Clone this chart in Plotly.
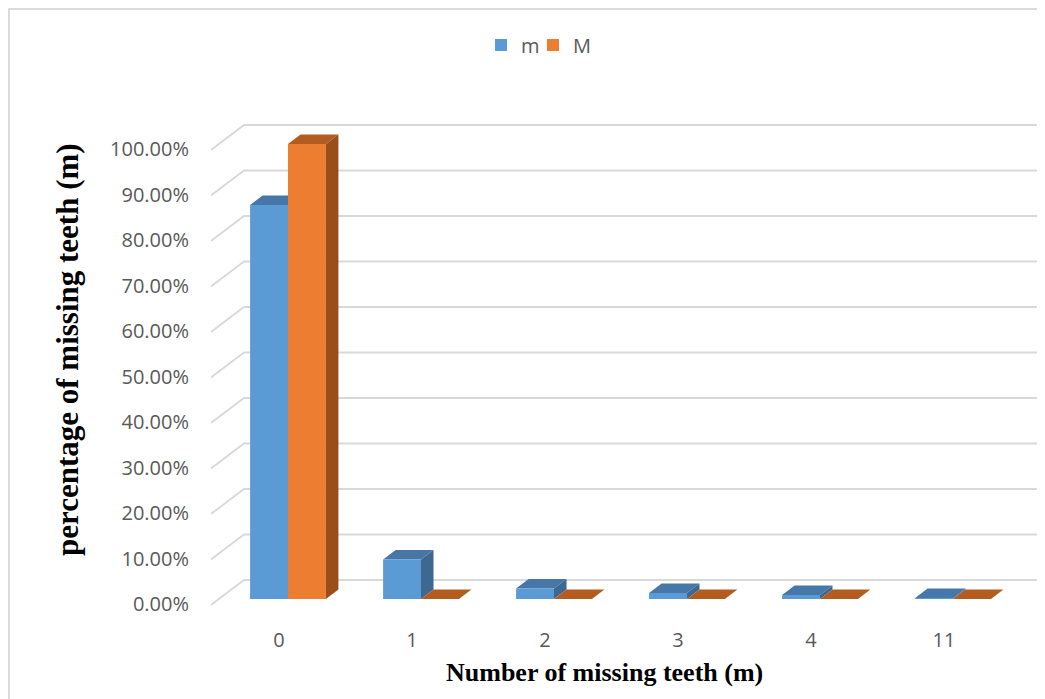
import plotly.graph_objects as go

# ---------------- data ----------------
categories = ["0", "1", "2", "3", "4", "11"]
m_values = [0.866, 0.087, 0.023, 0.013, 0.009, 0.002]
M_values = [1.000, 0.0, 0.0, 0.0, 0.0, 0.0]
series_names = ["m", "M"]
y_tick_values = [0.0, 0.1, 0.2, 0.3, 0.4, 0.5, 0.6, 0.7, 0.8, 0.9, 1.0]
x_title = "Number of missing teeth (m)"
y_title = "percentage of missing teeth (m)"

# ---------------- styling / layout ----------------
OFF = 8  # page body margin of the html page
W, H = 1045 - OFF, 699 - OFF
ML, MR, MT, MB = 211 - OFF, 4, 110 - OFF, 89
PLOT_W = W - ML - MR
PLOT_H = H - MT - MB
PX_PER_CAT = 133.0
PX_PER_UNIT = 455.0
X_START = -0.579
X_RANGE = [X_START, X_START + PLOT_W / PX_PER_CAT]
Y_START = -11.0 / PX_PER_UNIT
Y_RANGE = [Y_START, Y_START + PLOT_H / PX_PER_UNIT]

BAR_W = 0.285
DEPTH_X = 12.5 / PX_PER_CAT
DEPTH_Y = 9.5 / PX_PER_UNIT

COL = {
    "m": {"front": "#5B9BD5", "top": "#4677A8", "side": "#3D6891"},
    "M": {"front": "#ED7D31", "top": "#B45C20", "side": "#9A4E1B"},
}
TEXT_GREY = "#595959"
GRID = "#D9D9D9"


def px_to_paper_x(px):
    return (px - OFF - ML) / PLOT_W


def px_to_paper_y(py):
    return (H - MB - (py - OFF)) / PLOT_H


xpos = list(range(len(categories)))

fig = go.Figure()
for name, vals, off, leg in [(series_names[0], m_values, -BAR_W, "legend"),
                             (series_names[1], M_values, 0.0, "legend2")]:
    fig.add_trace(go.Bar(
        x=xpos, y=vals, name=name, width=BAR_W, offset=off, legend=leg,
        showlegend=True,
        marker=dict(color=COL[name]["front"], line=dict(width=0)),
        hovertemplate="%{y:.2%}<extra>" + name + "</extra>",
    ))

shapes = []
# back-wall gridlines with 3D perspective edge
wall_dx = 33.0 / PX_PER_CAT
front_drop = 6.0 / PX_PER_UNIT
back_rise = 19.0 / PX_PER_UNIT
for v in y_tick_values:
    path = (f"M {X_RANGE[0]},{v - front_drop} "
            f"L {X_RANGE[0] + wall_dx},{v + back_rise} "
            f"L {X_RANGE[1]},{v + back_rise}")
    shapes.append(dict(type="path", xref="x", yref="y", path=path,
                       line=dict(color=GRID, width=1.8), layer="below"))

# 3D faces of the columns
for name, vals, off, layer in [("m", m_values, -BAR_W, "below"),
                               ("M", M_values, 0.0, "above")]:
    for xi, v in zip(xpos, vals):
        x0 = xi + off
        x1 = x0 + BAR_W
        top = (f"M {x0},{v} L {x1},{v} L {x1 + DEPTH_X},{v + DEPTH_Y} "
               f"L {x0 + DEPTH_X},{v + DEPTH_Y} Z")
        shapes.append(dict(type="path", xref="x", yref="y", path=top,
                           fillcolor=COL[name]["top"], line=dict(width=0),
                           layer=layer))
        if v > 0:
            side = (f"M {x1},0 L {x1},{v} L {x1 + DEPTH_X},{v + DEPTH_Y} "
                    f"L {x1 + DEPTH_X},{DEPTH_Y} Z")
            shapes.append(dict(type="path", xref="x", yref="y", path=side,
                               fillcolor=COL[name]["side"], line=dict(width=0),
                               layer=layer))

# outer chart border (as close to the page corner as the figure allows)
shapes.append(dict(type="rect", xref="paper", yref="paper",
                   x0=px_to_paper_x(OFF + 1), x1=px_to_paper_x(1080),
                   y0=px_to_paper_y(740), y1=px_to_paper_y(OFF + 1),
                   line=dict(color="#D0D0D0", width=1.5), fillcolor="rgba(0,0,0,0)"))

legend_common = dict(orientation="h", xanchor="left", yanchor="middle",
                     font=dict(size=20, color=TEXT_GREY), bgcolor="rgba(0,0,0,0)",
                     visible=True)

fig.update_layout(
    width=W, height=H,
    margin=dict(l=ML, r=MR, t=MT, b=MB, autoexpand=False),
    paper_bgcolor="white", plot_bgcolor="white",
    barmode="overlay",
    showlegend=True,
    shapes=shapes,
    font=dict(family="Open Sans, DejaVu Sans, sans-serif", color=TEXT_GREY, size=20),
    legend=dict(x=px_to_paper_x(481), y=px_to_paper_y(45), **legend_common),
    legend2=dict(x=px_to_paper_x(533), y=px_to_paper_y(45), **legend_common),
    xaxis=dict(range=X_RANGE, tickmode="array", tickvals=xpos, ticktext=categories,
               showgrid=False, zeroline=False, showline=False, ticks="",
               ticklabelshift=-9, ticklabelstandoff=16,
               tickfont=dict(size=20, color=TEXT_GREY), fixedrange=True),
    yaxis=dict(range=Y_RANGE, tickmode="array", tickvals=y_tick_values,
               tickformat=".2%", showgrid=False, zeroline=False, showline=False,
               ticks="", ticklabelshift=5, ticklabelstandoff=21,
               tickfont=dict(size=20, color=TEXT_GREY), fixedrange=True),
    annotations=[
        dict(text=f"<b>{x_title}</b>", xref="paper", yref="paper",
             x=px_to_paper_x(604), y=px_to_paper_y(672), showarrow=False,
             xanchor="center", yanchor="middle",
             font=dict(family="Liberation Serif, Times New Roman, serif", size=26, color="black")),
        dict(text=f"<b>{y_title}</b>", xref="paper", yref="paper",
             x=px_to_paper_x(67), y=px_to_paper_y(350), showarrow=False,
             textangle=-90, xanchor="center", yanchor="middle",
             font=dict(family="Liberation Serif, Times New Roman, serif", size=31, color="black")),
    ],
)

fig.write_html("out.html")
